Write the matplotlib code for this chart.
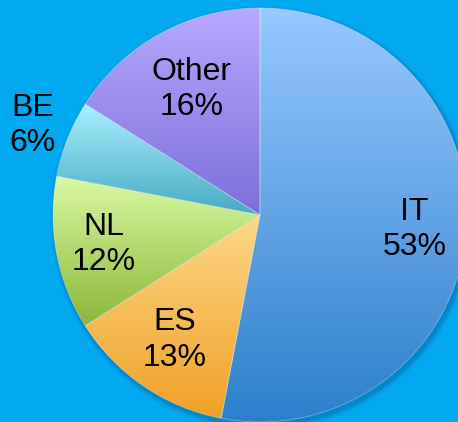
import numpy as np
import matplotlib
matplotlib.use("Agg")
import matplotlib.pyplot as plt
from matplotlib.colors import LinearSegmentedColormap

labels = ["IT", "ES", "NL", "BE", "Other"]
shares = [53, 13, 12, 6, 16]
top_colors = ["#98C8FE", "#FDD889", "#DAF9A4", "#A8EFFE", "#B6A9FE"]
bottom_colors = ["#2C80CB", "#EFA126", "#8BB737", "#47AAC0", "#7C6FD8"]
label_dist = [0.75, 0.73, 0.77, 1.18, 0.69]

BG = "#02A9F1"
W, H = 458, 422
cx, cy, r = 260, H - 215, 207

plt.rcParams["font.family"] = ["Liberation Sans", "DejaVu Sans"]

fig = plt.figure(figsize=(W / 100, H / 100), dpi=100, facecolor=BG)
ax = fig.add_axes([0, 0, 1, 1])
ax.set_facecolor(BG)

# soft shadow under the pie
for k, a in [(5, 0.12), (3, 0.18), (1.5, 0.25)]:
    ax.add_patch(plt.Circle((cx + 2, cy - 3), r + k, color="#0b5f9a", alpha=a, lw=0, zorder=0))

wedges, _ = ax.pie(
    shares,
    radius=r,
    center=(cx, cy),
    startangle=90,
    counterclock=False,
    frame=True,
    wedgeprops=dict(edgecolor=(1, 1, 1, 0.35), linewidth=0.6),
)

grad = np.linspace(0, 1, 256).reshape(-1, 1)
for w, c0, c1 in zip(wedges, top_colors, bottom_colors):
    w.set_facecolor("none")
    w.set_zorder(3)
    bb = w.get_path().get_extents(w.get_patch_transform())
    cmap = LinearSegmentedColormap.from_list("g", [c0, c1])
    im = ax.imshow(grad, cmap=cmap, extent=(bb.x0, bb.x1, bb.y0, bb.y1),
                   origin="upper", aspect="auto", zorder=2, interpolation="bilinear")
    im.set_clip_path(w)

ax.set_xlim(0, W)
ax.set_ylim(0, H)
ax.set_aspect("equal")
ax.axis("off")

for w, lab, pct, d in zip(wedges, labels, shares, label_dist):
    mid = np.deg2rad((w.theta1 + w.theta2) / 2)
    x = cx + d * r * np.cos(mid)
    y = cy + d * r * np.sin(mid)
    ax.text(x, y, f"{lab}\n{pct}%", ha="center", va="center", fontsize=23,
            linespacing=1.22, color="black", zorder=5)

fig.savefig("out.png", dpi=100, facecolor=BG)
